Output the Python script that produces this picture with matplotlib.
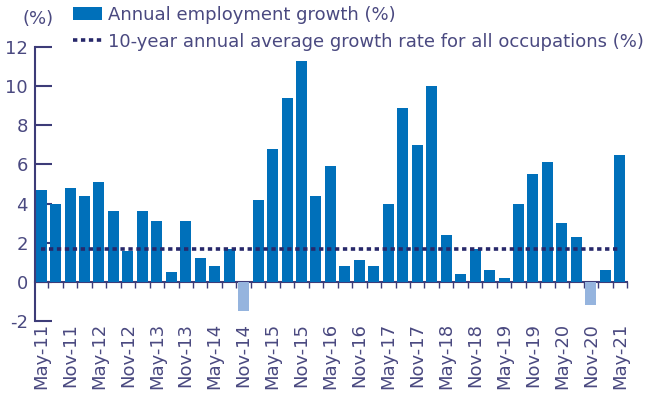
import matplotlib
matplotlib.use('Agg')
import matplotlib.pyplot as plt
from matplotlib.patches import Patch
from matplotlib.lines import Line2D
import numpy as np

# ---- data ----
periods = ["May-11", "Aug-11", "Nov-11", "Feb-12", "May-12", "Aug-12", "Nov-12", "Feb-13",
           "May-13", "Aug-13", "Nov-13", "Feb-14", "May-14", "Aug-14", "Nov-14", "Feb-15",
           "May-15", "Aug-15", "Nov-15", "Feb-16", "May-16", "Aug-16", "Nov-16", "Feb-17",
           "May-17", "Aug-17", "Nov-17", "Feb-18", "May-18", "Aug-18", "Nov-18", "Feb-19",
           "May-19", "Aug-19", "Nov-19", "Feb-20", "May-20", "Aug-20", "Nov-20", "Feb-21",
           "May-21"]

growth = [4.7, 4.0, 4.8, 4.4, 5.1, 3.6, 1.6, 3.6, 3.1, 0.5,
          3.1, 1.2, 0.8, 1.7, -1.5, 4.2, 6.8, 9.4, 11.3, 4.4,
          5.9, 0.8, 1.1, 0.8, 4.0, 8.9, 7.0, 10.0, 2.4, 0.4,
          1.7, 0.6, 0.2, 4.0, 5.5, 6.1, 3.0, 2.3, -1.2, 0.6, 6.5]
avg_rate = 1.7
y_ticks = [-2, 0, 2, 4, 6, 8, 10, 12]
tick_labels = periods[::2]

legend_labels = ["Annual employment growth (%)",
                 "10-year annual average growth rate for all occupations (%)"]

# ---- styles ----
POS = "#0070BA"
NEG = "#95B4DE"
NAVY = "#27286A"
AXC = "#3D3C78"
TXT = "#4A4980"
FS = 13
plt.rcParams['font.family'] = ['DejaVu Sans']

fig = plt.figure(figsize=(6.48, 3.97), dpi=100)
W, H = 648, 397
ax = fig.add_axes([35 / W, 1 - 321 / H, (627 - 35) / W, (321 - 47) / H])

x = np.arange(len(growth))
colors = [POS if v >= 0 else NEG for v in growth]
ax.bar(x, growth, width=0.76, color=colors, zorder=2)
ax.plot(x, [avg_rate] * len(x), color=NAVY, lw=2.6,
        ls=(0, (1.2, 1.0)), zorder=3)

ax.set_xlim(-0.42, len(growth) - 0.5)
ax.set_ylim(-2, 12)
ax.set_yticks(y_ticks)
ax.set_yticklabels([str(t) for t in y_ticks])
for s in ['top', 'right', 'bottom']:
    ax.spines[s].set_visible(False)
ax.spines['left'].set_color(AXC)
ax.spines['left'].set_linewidth(1.5)
ax.tick_params(axis='y', direction='in', length=12, width=1.5, color=AXC,
               labelcolor=TXT, labelsize=FS, pad=5)

ax.set_xticks(x[::2])
ax.set_xticklabels(tick_labels, rotation=90)
ax.tick_params(axis='x', length=0, labelcolor=TXT, labelsize=FS, pad=1.5)

# zero line with ticks between bars
sec = ax.secondary_xaxis(2 / 14)
sec.set_xticks(x + 0.5)
sec.set_xticklabels([])
sec.spines['bottom'].set_color(AXC)
sec.spines['bottom'].set_linewidth(1.5)
sec.tick_params(axis='x', direction='out', length=4, width=1, color=AXC)

fig.text(38 / W, 1 - 19 / H, "(%)", color=TXT, fontsize=FS,
         ha='center', va='center')

handles = [Patch(facecolor=POS, edgecolor='none'),
           Line2D([], [], color=NAVY, lw=2.6, ls=(0, (1.2, 1.0)))]
fig.legend(handles, legend_labels, loc='upper left',
           bbox_to_anchor=(60 / W, 1 + 7 / H), frameon=False,
           fontsize=FS, labelcolor=TXT, handlelength=1.65,
           handletextpad=0.3, labelspacing=0.5, borderpad=0.2)

fig.savefig("out.png", dpi=100)
